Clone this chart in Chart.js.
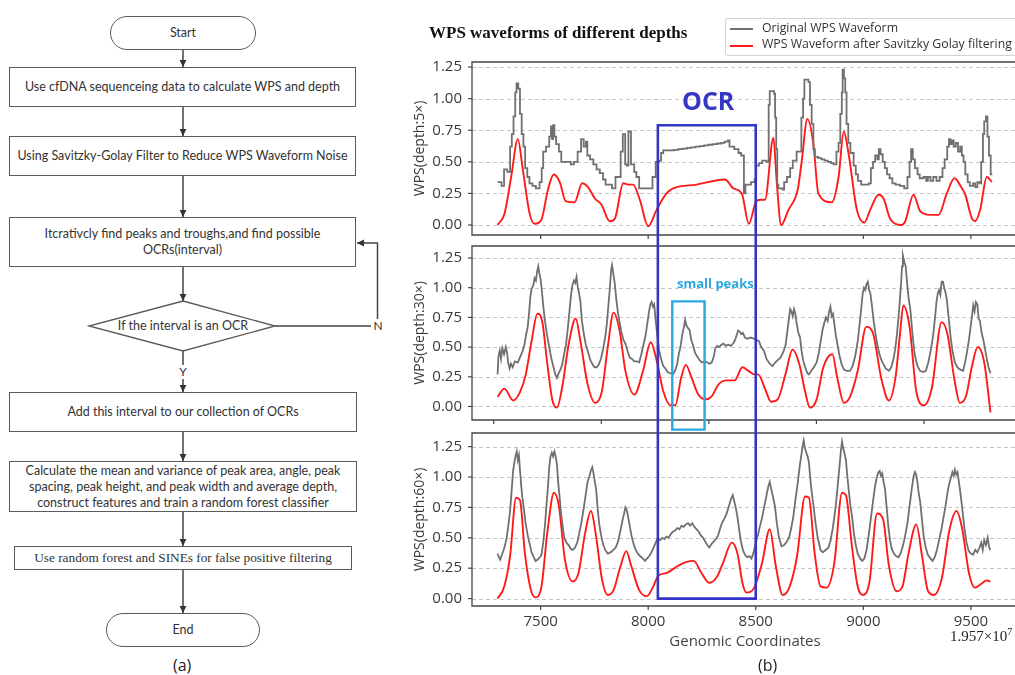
<!DOCTYPE html>
<html>
<head>
<meta charset="utf-8">
<script src="https://cdn.jsdelivr.net/npm/chart.js@4.4.1/dist/chart.umd.min.js"></script>
<style>
  html, body { margin: 0; padding: 0; background: #fff; }
  body { width: 1015px; height: 675px; position: relative; overflow: hidden; font-family: Lato, "Open Sans", sans-serif; }
  .fc { position: absolute; box-sizing: border-box; border: 1.3px solid #5a5a5a; background: #fff;
        display: flex; align-items: center; justify-content: center; text-align: center;
        font-family: Lato, sans-serif; font-size: 12.5px; color: #333; line-height: 16px; }
  .pill { border-radius: 18px; }
  .serif { font-family: "Liberation Serif", "Times New Roman", serif; font-size: 13.3px; }
  .lbl { position: absolute; white-space: nowrap; }
  canvas { position: absolute; }
  #legend { position: absolute; left: 725px; top: 18px; width: 300px; height: 38px; box-sizing: border-box;
            border: 1px solid #d2d2d2; border-radius: 3px; background: rgba(255,255,255,0.88); z-index: 5;
            font-family: "Open Sans", sans-serif; font-size: 12.3px; color: #333; }
  #legend .sw { position: absolute; left: 4px; width: 23px; height: 2px; }
  #legend .tx { position: absolute; left: 36px; line-height: 16px; white-space: nowrap; }
</style>
</head>
<body>

<!-- flow chart: connectors -->
<svg width="400" height="675" style="position:absolute;left:0;top:0" xmlns="http://www.w3.org/2000/svg">
  <defs>
    <marker id="ah" markerWidth="8" markerHeight="8" refX="7" refY="4" orient="auto" markerUnits="userSpaceOnUse">
      <path d="M0,0.6 L7,4 L0,7.4 z" fill="#333"/>
    </marker>
  </defs>
  <g stroke="#444" stroke-width="1.5" fill="none">
    <line x1="183" y1="50" x2="183" y2="67" marker-end="url(#ah)"/>
    <line x1="183" y1="107" x2="183" y2="136" marker-end="url(#ah)"/>
    <line x1="183" y1="176" x2="183" y2="217" marker-end="url(#ah)"/>
    <line x1="183" y1="267" x2="183" y2="301" marker-end="url(#ah)"/>
    <line x1="183" y1="351" x2="183" y2="365"/>
    <line x1="183" y1="379" x2="183" y2="392" marker-end="url(#ah)"/>
    <line x1="183" y1="432" x2="183" y2="461" marker-end="url(#ah)"/>
    <line x1="183" y1="512" x2="183" y2="546" marker-end="url(#ah)"/>
    <line x1="183" y1="570" x2="183" y2="613" marker-end="url(#ah)"/>
    <line x1="275" y1="326" x2="371" y2="326"/>
    <polyline points="377.5,319 377.5,243 357,243" marker-end="url(#ah)"/>
  </g>
  <polygon points="183,301 275,326 183,351 89,326" fill="#fff" stroke="#5a5a5a" stroke-width="1.3"/>
  <text x="183" y="330" text-anchor="middle" font-family="Lato, sans-serif" font-size="12.5" fill="#333">If the interval is an OCR</text>
  <text x="378" y="330" text-anchor="middle" font-family="Lato, sans-serif" font-size="12" fill="#333">N</text>
  <text x="183" y="376" text-anchor="middle" font-family="Lato, sans-serif" font-size="12" fill="#333">Y</text>
</svg>

<!-- flow chart: steps -->
<div class="fc pill" style="left:110px;top:16px;width:146px;height:34px;">Start</div>
<div class="fc" style="left:9px;top:67px;width:347px;height:40px;">Use cfDNA sequenceing data to calculate WPS and depth</div>
<div class="fc" style="left:9px;top:136px;width:347px;height:40px;">Using Savitzky-Golay Filter to Reduce WPS Waveform Noise</div>
<div class="fc" style="left:9px;top:217px;width:347px;height:50px;">Itcrativcly find peaks and troughs,and find possible<br>OCRs(interval)</div>
<div class="fc" style="left:9px;top:392px;width:348px;height:40px;">Add this interval to our collection of OCRs</div>
<div class="fc" style="left:9px;top:461px;width:348px;height:51px;">Calculate the mean and variance of peak area, angle, peak<br>spacing, peak height, and peak width and average depth,<br>construct features and train a random forest classifier</div>
<div class="fc serif" style="left:14px;top:546px;width:338px;height:24px;">Use random forest and SINEs for false positive filtering</div>
<div class="fc pill" style="left:106px;top:613px;width:154px;height:34px;">End</div>
<div class="lbl" style="left:173px;top:654px;font-family:'Open Sans',sans-serif;font-size:16px;color:#222;">(a)</div>

<!-- waveform panels -->
<canvas id="p5" width="620" height="240" style="left:400px;top:0px"></canvas>
<canvas id="p30" width="620" height="186" style="left:400px;top:240px"></canvas>
<canvas id="p60" width="620" height="249" style="left:400px;top:426px"></canvas>

<div class="lbl" style="left:429px;top:23px;font-family:'Liberation Serif',serif;font-weight:bold;font-size:17px;line-height:20px;color:#111;z-index:5;">WPS waveforms of different depths</div>
<div id="legend">
  <div class="sw" style="top:9px;background:#707070"></div>
  <div class="tx" style="top:1px">Original WPS Waveform</div>
  <div class="sw" style="top:26px;background:#ff1a1a"></div>
  <div class="tx" style="top:17px">WPS Waveform after Savitzky Golay filtering</div>
</div>
<div class="lbl" style="left:682px;top:84px;font-family:'Open Sans',sans-serif;font-weight:bold;font-size:25px;line-height:32px;color:#3636c4;z-index:5;">OCR</div>
<div class="lbl" style="left:677px;top:274px;font-family:'Open Sans',sans-serif;font-weight:bold;font-size:13px;line-height:18px;color:#2aa7df;z-index:5;">small peaks</div>
<div class="lbl" style="left:950px;top:622px;font-family:'Liberation Serif',serif;font-size:15px;line-height:20px;color:#222;z-index:5;">1.957×10<sup style="font-size:10px">7</sup></div>
<div class="lbl" style="left:758px;top:654px;font-family:'Open Sans',sans-serif;font-size:16px;color:#222;">(b)</div>

<script>
// ---- axis ranges and ticks ----
const coordMin = 7181, coordMax = 9719;
const coordTicks = [7500, 8000, 8500, 9000, 9500];
const coordTicksMid = [7282, 7782, 8282, 8782, 9282];
const wpsTicks = [0, 0.25, 0.5, 0.75, 1.0, 1.25];

// ---- depth 5x ----
const raw5 = [
  [7300,0.34],[7318,0.31],[7330,0.44],[7345,0.42],[7358,0.62],[7366,0.72],[7374,0.86],[7382,1.05],[7388,1.12],
  [7396,1.08],[7404,0.88],[7412,0.72],[7420,0.62],[7428,0.45],[7438,0.38],[7448,0.33],[7462,0.31],[7478,0.29],
  [7495,0.34],[7505,0.45],[7512,0.58],[7525,0.62],[7540,0.70],[7548,0.78],[7553,0.68],[7558,0.79],[7564,0.70],
  [7572,0.64],[7585,0.58],[7596,0.50],[7640,0.48],[7655,0.50],[7672,0.58],[7688,0.68],[7700,0.62],[7710,0.66],
  [7717,0.55],[7730,0.52],[7745,0.48],[7760,0.44],[7775,0.41],[7790,0.36],[7802,0.32],[7832,0.29],[7848,0.38],
  [7872,0.58],[7882,0.72],[7893,0.48],[7900,0.47],[7908,0.74],[7920,0.48],[7935,0.42],[7945,0.38],[7958,0.29],
  [8000,0.29],[8020,0.38],[8035,0.50],[8052,0.51],[8060,0.57],[8070,0.59],[8100,0.59],[8120,0.595],[8140,0.60],
  [8160,0.605],[8180,0.61],[8200,0.615],[8220,0.62],[8240,0.625],[8260,0.63],[8280,0.635],[8300,0.64],[8320,0.645],
  [8340,0.65],[8355,0.66],[8370,0.67],[8378,0.62],[8400,0.60],[8420,0.57],[8432,0.55],[8445,0.25],[8452,0.32],
  [8478,0.34],[8495,0.36],[8502,0.47],[8515,0.49],[8530,0.51],[8550,0.50],[8560,0.95],[8565,1.06],[8585,1.04],
  [8590,0.85],[8595,0.60],[8600,0.32],[8605,0.29],[8625,0.28],[8632,0.34],[8645,0.38],[8660,0.45],[8672,0.51],
  [8690,0.58],[8712,0.85],[8720,1.00],[8726,1.15],[8745,1.13],[8752,0.95],[8760,0.80],[8768,0.60],[8775,0.54],
  [8790,0.53],[8805,0.52],[8820,0.51],[8835,0.50],[8850,0.49],[8862,0.48],[8875,0.58],[8885,0.65],[8893,0.88],
  [8900,1.05],[8904,1.23],[8910,1.16],[8916,1.05],[8922,0.80],[8930,0.65],[8940,0.57],[8955,0.47],[8965,0.40],
  [8975,0.35],[8990,0.32],[9025,0.33],[9035,0.45],[9045,0.50],[9055,0.55],[9065,0.52],[9072,0.60],[9080,0.56],
  [9090,0.50],[9100,0.45],[9110,0.40],[9122,0.37],[9135,0.33],[9150,0.32],[9170,0.31],[9190,0.29],[9205,0.38],
  [9215,0.50],[9222,0.60],[9230,0.52],[9240,0.45],[9252,0.40],[9262,0.37],[9280,0.38],[9292,0.35],[9300,0.38],
  [9312,0.35],[9325,0.38],[9340,0.35],[9355,0.38],[9368,0.45],[9378,0.52],[9390,0.62],[9398,0.68],[9405,0.64],
  [9412,0.67],[9420,0.62],[9430,0.65],[9440,0.58],[9450,0.62],[9458,0.55],[9466,0.50],[9474,0.40],[9485,0.34],
  [9495,0.31],[9510,0.33],[9520,0.30],[9530,0.34],[9540,0.33],[9548,0.50],[9556,0.72],[9562,0.82],[9570,0.86],
  [9577,0.70],[9584,0.55],[9592,0.40],[9600,0.40]
];
const smooth5 = [
  [7300,0.0],[7332,0.09],[7363,0.38],[7394,0.68],[7418,0.43],[7449,0.09],[7472,0.01],[7503,0.04],[7534,0.28],
  [7561,0.40],[7589,0.34],[7616,0.19],[7658,0.18],[7693,0.33],[7720,0.30],[7752,0.21],[7783,0.16],[7821,0.03],
  [7845,0.05],[7884,0.33],[7907,0.32],[7930,0.32],[7961,0.20],[8000,-0.01],[8039,0.12],[8085,0.25],[8116,0.29],
  [8225,0.32],[8357,0.36],[8396,0.29],[8435,0.25],[8468,0.01],[8500,0.18],[8520,0.20],[8543,0.20],[8582,0.69],
  [8598,0.33],[8618,0.0],[8652,0.12],[8695,0.28],[8714,0.51],[8740,0.84],[8768,0.64],[8791,0.25],[8853,0.18],
  [8885,0.38],[8909,0.74],[8931,0.57],[8970,0.12],[9005,0.02],[9032,0.12],[9071,0.24],[9094,0.21],[9125,0.05],
  [9179,0.0],[9195,0.03],[9233,0.24],[9264,0.11],[9311,0.08],[9350,0.08],[9388,0.25],[9424,0.37],[9455,0.30],
  [9474,0.24],[9505,0.05],[9520,0.03],[9543,0.12],[9574,0.38],[9598,0.34]
];

// ---- depth 30x ----
const raw30 = [
  [7300,0.27],[7304,0.42],[7310,0.47],[7316,0.40],[7322,0.49],[7330,0.44],[7338,0.50],[7344,0.45],[7349,0.37],
  [7356,0.32],[7362,0.36],[7370,0.33],[7380,0.38],[7394,0.37],[7405,0.42],[7415,0.46],[7425,0.52],[7432,0.60],
  [7440,0.67],[7447,0.80],[7452,0.92],[7458,0.99],[7466,1.02],[7472,1.08],[7478,1.06],[7484,1.14],[7489,1.18],
  [7494,1.12],[7500,1.07],[7506,0.97],[7512,0.85],[7520,0.72],[7530,0.60],[7540,0.50],[7549,0.41],[7560,0.33],
  [7568,0.27],[7576,0.24],[7584,0.28],[7592,0.31],[7600,0.35],[7610,0.45],[7618,0.52],[7626,0.65],[7634,0.80],
  [7642,0.95],[7649,1.03],[7655,1.06],[7661,1.04],[7667,1.09],[7673,1.00],[7679,0.95],[7685,0.88],[7692,0.72],
  [7700,0.62],[7710,0.52],[7720,0.46],[7731,0.39],[7740,0.36],[7750,0.33],[7760,0.33],[7770,0.35],[7780,0.40],
  [7790,0.48],[7800,0.58],[7808,0.70],[7815,0.85],[7822,1.00],[7828,1.15],[7832,1.19],[7838,1.12],[7845,1.03],
  [7852,0.90],[7860,0.78],[7867,0.71],[7875,0.63],[7885,0.56],[7894,0.53],[7905,0.46],[7915,0.41],[7925,0.40],
  [7935,0.38],[7948,0.38],[7958,0.37],[7968,0.44],[7978,0.52],[7988,0.60],[7996,0.70],[8004,0.80],[8010,0.86],
  [8016,0.88],[8022,0.84],[8028,0.86],[8034,0.74],[8042,0.60],[8050,0.48],[8060,0.40],[8070,0.34],[8080,0.32],
  [8090,0.29],[8103,0.28],[8115,0.27],[8125,0.30],[8135,0.36],[8142,0.44],[8150,0.50],[8158,0.60],[8165,0.66],
  [8172,0.73],[8178,0.68],[8185,0.66],[8193,0.64],[8200,0.56],[8208,0.52],[8218,0.45],[8228,0.42],[8239,0.39],
  [8250,0.37],[8262,0.38],[8275,0.37],[8285,0.36],[8295,0.37],[8305,0.42],[8312,0.49],[8320,0.51],[8330,0.50],
  [8340,0.52],[8350,0.53],[8360,0.51],[8372,0.52],[8384,0.51],[8395,0.53],[8404,0.56],[8411,0.60],[8418,0.64],
  [8425,0.63],[8432,0.61],[8440,0.62],[8450,0.58],[8460,0.57],[8475,0.58],[8493,0.57],[8505,0.56],[8515,0.55],
  [8525,0.50],[8538,0.47],[8550,0.40],[8565,0.36],[8578,0.34],[8590,0.37],[8602,0.39],[8615,0.41],[8628,0.46],
  [8638,0.51],[8646,0.62],[8654,0.74],[8660,0.82],[8666,0.80],[8672,0.76],[8678,0.82],[8684,0.78],[8690,0.70],
  [8698,0.62],[8706,0.58],[8712,0.48],[8720,0.39],[8730,0.33],[8740,0.28],[8747,0.27],[8758,0.30],[8770,0.33],
  [8783,0.37],[8793,0.45],[8802,0.55],[8810,0.64],[8818,0.70],[8826,0.75],[8834,0.72],[8840,0.79],[8847,0.84],
  [8853,0.76],[8859,0.78],[8865,0.70],[8872,0.60],[8880,0.52],[8890,0.42],[8900,0.35],[8910,0.31],[8922,0.30],
  [8938,0.30],[8950,0.34],[8962,0.42],[8974,0.55],[8982,0.68],[8990,0.82],[8997,0.95],[9003,1.00],[9009,0.98],
  [9015,1.03],[9021,1.05],[9027,0.98],[9033,0.95],[9040,0.85],[9048,0.72],[9056,0.62],[9064,0.53],[9072,0.46],
  [9082,0.40],[9092,0.36],[9104,0.32],[9119,0.30],[9130,0.33],[9140,0.40],[9148,0.48],[9156,0.60],[9164,0.76],
  [9170,0.90],[9176,1.05],[9180,1.18],[9184,1.27],[9190,1.22],[9197,1.18],[9203,1.05],[9210,0.92],[9219,0.81],
  [9228,0.62],[9236,0.48],[9242,0.41],[9252,0.34],[9264,0.30],[9278,0.29],[9291,0.30],[9302,0.37],[9312,0.46],
  [9319,0.53],[9326,0.62],[9334,0.76],[9340,0.88],[9346,0.95],[9352,0.98],[9358,0.94],[9364,1.05],[9370,1.05],
  [9376,1.00],[9382,0.96],[9388,0.90],[9396,0.76],[9406,0.58],[9416,0.45],[9426,0.37],[9437,0.33],[9450,0.31],
  [9464,0.30],[9474,0.38],[9482,0.46],[9491,0.56],[9498,0.66],[9505,0.76],[9511,0.85],[9517,0.80],[9523,0.88],
  [9530,0.86],[9536,0.74],[9542,0.72],[9550,0.62],[9558,0.56],[9566,0.48],[9574,0.40],[9582,0.33],[9591,0.28]
];
const smooth30 = [
  [7300,0.08],[7331,0.15],[7373,0.05],[7404,0.12],[7431,0.27],[7458,0.55],[7485,0.78],[7507,0.72],[7531,0.36],
  [7555,0.05],[7576,-0.01],[7600,0.16],[7631,0.53],[7663,0.74],[7685,0.55],[7718,0.19],[7754,0.03],[7785,0.13],
  [7812,0.50],[7839,0.79],[7867,0.64],[7894,0.30],[7936,0.10],[7976,0.30],[8012,0.54],[8039,0.39],[8070,0.13],
  [8103,0.01],[8126,0.01],[8153,0.24],[8175,0.35],[8202,0.24],[8233,0.10],[8266,0.06],[8293,0.08],[8329,0.19],
  [8366,0.22],[8402,0.22],[8438,0.33],[8466,0.30],[8493,0.27],[8511,0.27],[8547,0.13],[8571,0.04],[8602,0.06],
  [8638,0.27],[8671,0.48],[8702,0.36],[8729,0.13],[8752,-0.01],[8783,0.06],[8814,0.33],[8856,0.44],[8879,0.24],
  [8910,0.03],[8938,0.08],[8974,0.30],[9014,0.67],[9046,0.61],[9083,0.24],[9119,0.05],[9150,0.25],[9170,0.60],
  [9186,0.85],[9215,0.67],[9246,0.13],[9282,0.01],[9319,0.16],[9364,0.71],[9391,0.61],[9424,0.22],[9449,0.03],
  [9478,0.09],[9504,0.33],[9532,0.50],[9563,0.36],[9591,-0.05]
];

// ---- depth 60x ----
const raw60 = [
  [7300,0.37],[7306,0.34],[7312,0.32],[7320,0.36],[7328,0.40],[7335,0.44],[7342,0.50],[7350,0.60],[7358,0.72],
  [7365,0.88],[7372,1.05],[7378,1.12],[7383,1.17],[7389,1.21],[7394,1.14],[7399,1.18],[7404,1.06],[7410,0.92],
  [7416,0.82],[7422,0.74],[7430,0.62],[7440,0.52],[7449,0.45],[7458,0.38],[7468,0.34],[7476,0.31],[7486,0.32],
  [7496,0.34],[7504,0.36],[7512,0.46],[7520,0.60],[7527,0.76],[7534,0.92],[7540,1.08],[7546,1.17],[7552,1.20],
  [7558,1.17],[7564,1.21],[7570,1.17],[7576,1.10],[7582,0.95],[7588,0.84],[7595,0.70],[7602,0.60],[7610,0.50],
  [7620,0.46],[7630,0.44],[7640,0.41],[7650,0.40],[7660,0.42],[7670,0.46],[7680,0.54],[7690,0.63],[7700,0.74],
  [7710,0.86],[7718,0.96],[7726,1.00],[7733,1.05],[7740,1.08],[7746,1.03],[7752,0.96],[7758,0.90],[7765,0.74],
  [7772,0.62],[7780,0.53],[7790,0.45],[7800,0.40],[7812,0.37],[7825,0.38],[7838,0.40],[7849,0.42],[7860,0.47],
  [7870,0.55],[7880,0.64],[7888,0.70],[7894,0.75],[7900,0.73],[7906,0.68],[7914,0.60],[7922,0.52],[7932,0.45],
  [7942,0.40],[7952,0.37],[7962,0.35],[7975,0.33],[7985,0.31],[7995,0.33],[8005,0.35],[8015,0.38],[8025,0.42],
  [8035,0.46],[8045,0.50],[8055,0.48],[8065,0.50],[8075,0.49],[8085,0.51],[8095,0.50],[8105,0.53],[8115,0.55],
  [8125,0.56],[8135,0.58],[8145,0.57],[8155,0.60],[8165,0.59],[8175,0.61],[8185,0.62],[8195,0.60],[8205,0.62],
  [8215,0.59],[8225,0.57],[8235,0.55],[8245,0.52],[8255,0.50],[8265,0.47],[8275,0.44],[8284,0.42],[8295,0.45],
  [8305,0.47],[8315,0.49],[8325,0.52],[8335,0.58],[8345,0.63],[8355,0.66],[8365,0.70],[8375,0.76],[8385,0.82],
  [8393,0.85],[8400,0.80],[8408,0.74],[8415,0.67],[8422,0.58],[8430,0.48],[8440,0.40],[8450,0.36],[8460,0.34],
  [8470,0.35],[8480,0.33],[8490,0.38],[8500,0.46],[8510,0.52],[8520,0.60],[8530,0.67],[8540,0.76],[8550,0.85],
  [8558,0.92],[8565,0.96],[8572,0.90],[8580,0.84],[8589,0.76],[8598,0.62],[8608,0.50],[8620,0.43],[8632,0.44],
  [8645,0.47],[8656,0.51],[8665,0.58],[8675,0.68],[8685,0.82],[8695,0.95],[8705,1.10],[8712,1.18],[8718,1.26],
  [8723,1.30],[8728,1.24],[8735,1.20],[8741,1.17],[8747,1.12],[8755,0.96],[8762,0.85],[8770,0.74],[8778,0.62],
  [8788,0.50],[8801,0.40],[8812,0.38],[8825,0.40],[8838,0.42],[8848,0.48],[8858,0.58],[8866,0.68],[8874,0.80],
  [8882,0.95],[8890,1.10],[8896,1.22],[8901,1.29],[8906,1.24],[8912,1.20],[8919,1.14],[8926,1.00],[8933,0.88],
  [8940,0.76],[8947,0.68],[8956,0.54],[8965,0.44],[8974,0.37],[8985,0.33],[8995,0.31],[9005,0.33],[9015,0.40],
  [9025,0.52],[9035,0.66],[9045,0.80],[9055,0.93],[9063,1.00],[9070,1.04],[9076,1.05],[9082,1.01],[9088,1.03],
  [9094,0.96],[9101,0.90],[9108,0.76],[9116,0.60],[9124,0.48],[9132,0.41],[9142,0.37],[9152,0.35],[9164,0.34],
  [9175,0.38],[9185,0.44],[9195,0.52],[9205,0.62],[9215,0.76],[9225,0.90],[9233,1.00],[9240,1.04],[9246,1.02],
  [9252,0.95],[9258,0.86],[9264,0.80],[9272,0.66],[9280,0.52],[9290,0.42],[9300,0.36],[9312,0.33],[9322,0.31],
  [9332,0.34],[9342,0.40],[9352,0.48],[9362,0.56],[9372,0.66],[9382,0.76],[9392,0.88],[9400,0.95],[9408,1.00],
  [9414,1.04],[9420,1.01],[9426,1.06],[9432,1.02],[9438,1.04],[9445,0.95],[9452,0.86],[9460,0.74],[9470,0.58],
  [9480,0.46],[9490,0.39],[9500,0.37],[9510,0.36],[9520,0.40],[9530,0.38],[9540,0.42],[9548,0.46],[9555,0.40],
  [9562,0.48],[9570,0.44],[9578,0.50],[9585,0.42],[9591,0.40]
];
const smooth60 = [
  [7300,0.0],[7331,0.10],[7358,0.35],[7386,0.83],[7404,0.81],[7427,0.37],[7455,0.07],[7476,0.01],[7504,0.10],
  [7531,0.54],[7562,0.87],[7585,0.76],[7613,0.32],[7649,0.14],[7676,0.21],[7707,0.54],[7734,0.72],[7758,0.51],
  [7785,0.16],[7812,0.03],[7839,0.07],[7872,0.27],[7898,0.39],[7921,0.27],[7958,0.07],[7994,0.02],[8021,0.09],
  [8048,0.19],[8084,0.21],[8139,0.27],[8175,0.30],[8211,0.31],[8248,0.21],[8284,0.13],[8320,0.18],[8347,0.29],
  [8389,0.46],[8415,0.37],[8438,0.13],[8456,0.05],[8493,0.09],[8529,0.29],[8565,0.57],[8593,0.27],[8625,0.03],
  [8656,0.09],[8692,0.35],[8729,0.84],[8747,0.83],[8774,0.37],[8801,0.10],[8829,0.09],[8865,0.29],[8901,0.87],
  [8919,0.85],[8947,0.43],[8974,0.10],[9001,0.03],[9028,0.13],[9064,0.70],[9092,0.65],[9119,0.27],[9155,0.06],
  [9182,0.10],[9210,0.37],[9246,0.61],[9273,0.35],[9301,0.06],[9328,0.03],[9364,0.16],[9401,0.57],[9433,0.72],
  [9460,0.57],[9491,0.21],[9518,0.09],[9555,0.13],[9573,0.15],[9591,0.14]
];

// ---- highlighted regions: [x from, x to], top [panel, value], bottom [panel, value] ----
const ocrSpan = [8045, 8500];
const ocrTop = [0, 0.79];
const ocrBottom = [2, 0.0];
const peaksSpan = [8112, 8262];
const peaksTop = [1, 0.885];
const peaksBottom = [2, 1.39];

const regions = [
  { span: ocrSpan, top: ocrTop, bottom: ocrBottom, color: '#3434c6', width: 2.6 },
  { span: peaksSpan, top: peaksTop, bottom: peaksBottom, color: '#2aa7df', width: 2.4 }
];

Chart.defaults.font.family = "'Open Sans', sans-serif";
Chart.defaults.color = '#3a3a3a';

const toPts = arr => arr.map(p => ({ x: p[0], y: p[1] }));

// keep the plot area exactly where the layout padding puts it
const noPad = s => { s.paddingTop = 0; s.paddingBottom = 0; s.paddingLeft = 0; s.paddingRight = 0; };

// frame, dashed grid, outward ticks and highlighted regions
const panelDecor = {
  id: 'panelDecor',
  beforeDatasetsDraw(chart) {
    const { ctx, chartArea: a, scales: { y } } = chart;
    ctx.save();
    ctx.strokeStyle = '#c6c6c6';
    ctx.lineWidth = 1;
    ctx.setLineDash([4, 3]);
    y.ticks.forEach(t => {
      const py = Math.round(y.getPixelForValue(t.value)) + 0.5;
      ctx.beginPath(); ctx.moveTo(a.left, py); ctx.lineTo(a.right, py); ctx.stroke();
    });
    ctx.restore();
  },
  afterDraw(chart, args, opts) {
    const { ctx, chartArea: a, scales: { x, y } } = chart;
    ctx.save();
    ctx.setLineDash([]);
    ctx.strokeStyle = '#454545';
    ctx.lineWidth = 1.3;
    ctx.beginPath();
    ctx.moveTo(a.left, a.top); ctx.lineTo(a.right, a.top); ctx.lineTo(a.right, a.bottom);
    ctx.lineTo(a.left, a.bottom); ctx.closePath();
    ctx.stroke();
    ctx.lineWidth = 1.2;
    x.ticks.forEach(t => {
      const px = x.getPixelForValue(t.value);
      ctx.beginPath(); ctx.moveTo(px, a.bottom); ctx.lineTo(px, a.bottom + 4); ctx.stroke();
    });
    y.ticks.forEach(t => {
      const py = y.getPixelForValue(t.value);
      ctx.beginPath(); ctx.moveTo(a.left - 4, py); ctx.lineTo(a.left, py); ctx.stroke();
    });
    const idx = opts.index;
    regions.forEach(r => {
      if (idx < r.top[0] || idx > r.bottom[0]) return;
      const x0 = x.getPixelForValue(r.span[0]);
      const x1 = x.getPixelForValue(r.span[1]);
      const y0 = idx === r.top[0] ? y.getPixelForValue(r.top[1]) : -5;
      const y1 = idx === r.bottom[0] ? y.getPixelForValue(r.bottom[1]) : chart.height + 5;
      ctx.strokeStyle = r.color;
      ctx.lineWidth = r.width;
      ctx.beginPath();
      ctx.moveTo(x0, y0); ctx.lineTo(x0, y1);
      ctx.moveTo(x1, y0); ctx.lineTo(x1, y1);
      if (idx === r.top[0]) { ctx.moveTo(x0 - r.width / 2, y0); ctx.lineTo(x1 + r.width / 2, y0); }
      if (idx === r.bottom[0]) { ctx.moveTo(x0 - r.width / 2, y1); ctx.lineTo(x1 + r.width / 2, y1); }
      ctx.stroke();
    });
    ctx.restore();
  }
};

function makePanel(id, index, raw, smooth, yTitle, yMin, yMax, xTicks, padTop, xAxisHeight, showX, stepped) {
  return new Chart(document.getElementById(id), {
    type: 'line',
    data: {
      datasets: [
        { label: 'Original WPS Waveform', data: toPts(raw), borderColor: '#707070', borderWidth: 1.8,
          pointRadius: 0, stepped: stepped, tension: 0 },
        { label: 'WPS Waveform after Savitzky Golay filtering', data: toPts(smooth), borderColor: '#ff1a1a',
          borderWidth: 1.9, pointRadius: 0, cubicInterpolationMode: 'monotone' }
      ]
    },
    options: {
      responsive: false, animation: false, events: [],
      layout: { padding: { top: padTop, left: 0, right: 2, bottom: 0 } },
      plugins: { legend: { display: false }, tooltip: { enabled: false }, panelDecor: { index } },
      scales: {
        x: {
          type: 'linear', min: coordMin, max: coordMax,
          afterBuildTicks: s => { s.ticks = xTicks.map(v => ({ value: v })); },
          afterFit: s => { s.height = xAxisHeight; noPad(s); },
          grid: { display: false, drawTicks: false }, border: { display: false },
          ticks: { display: showX, padding: 7, font: { size: 15 }, color: '#3a3a3a', callback: v => String(v) },
          title: { display: showX, text: 'Genomic Coordinates', font: { size: 15 }, color: '#444',
                   padding: { top: 0, bottom: 24 } }
        },
        y: {
          min: yMin, max: yMax,
          afterBuildTicks: s => { s.ticks = wpsTicks.map(v => ({ value: v })); },
          afterFit: s => { s.width = 72; noPad(s); },
          grid: { display: false, drawTicks: false }, border: { display: false },
          ticks: { padding: 10, font: { size: 15 }, color: '#3a3a3a', callback: v => Number(v).toFixed(2) },
          title: { display: true, text: yTitle, font: { size: 14 }, color: '#3a3a3a', padding: { top: 12, bottom: 0 } }
        }
      }
    },
    plugins: [panelDecor]
  });
}

makePanel('p5', 0, raw5, smooth5, 'WPS(depth:5×)', -0.079, 1.29, coordTicks, 62, 5, false, true);
makePanel('p30', 1, raw30, smooth30, 'WPS(depth:30×)', -0.114, 1.351, coordTicksMid, 6, 6, false, false);
makePanel('p60', 2, raw60, smooth60, 'WPS(depth:60×)', -0.061, 1.362, coordTicks, 7, 69, true, false);
</script>
</body>
</html>
